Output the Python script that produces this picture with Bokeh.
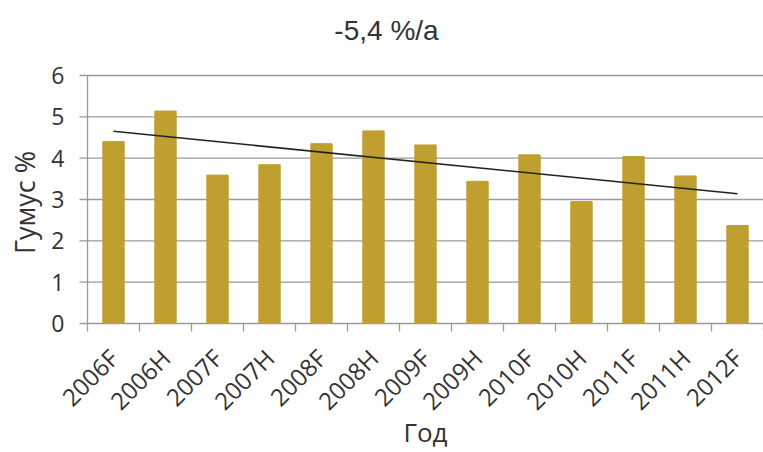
import math
from bokeh.plotting import figure
from bokeh.models import Range1d
from bokeh.core.properties import value
from bokeh.embed import file_html
from bokeh.resources import INLINE

categories = ["2006F", "2006H", "2007F", "2007H", "2008F", "2008H", "2009F",
              "2009H", "2010F", "2010H", "2011F", "2011H", "2012F"]
humus = [4.40, 5.14, 3.59, 3.84, 4.35, 4.66, 4.32, 3.44, 4.08, 2.95, 4.04, 3.57, 2.37]
trend_ends = [4.65, 3.14]
y_ticks = [0, 1, 2, 3, 4, 5, 6]
y_tick_labels = ["0", "1", "2", "3", "4", "5", "6"]
title_text = "-5,4 %/a"
x_title = "Год"
y_title = "Гумус %"

n = len(categories)
xc = [i + 0.5 for i in range(n)]
bounds = list(range(n + 1))

TEXT = "#333333"
AX = "#9A9A9A"
W, H = 763, 452

# pixel layout: value axis 0 at row 323, 6 at row 75; category axis starts at column 87
PPU = (323 - 75) / 6.0
CW = (W - 87) / float(n)
y_top = 6 + 75 / PPU
y_bot = -(H - 323) / PPU
x_left = -87 / CW

p = figure(width=W, height=H, output_backend="svg", toolbar_location=None,
           x_range=Range1d(x_left, n), y_range=Range1d(y_bot, y_top),
           x_axis_location=None, y_axis_location=None,
           min_border_left=0, min_border_right=0, min_border_top=0,
           min_border_bottom=0)
p.outline_line_color = None
p.grid.visible = False

# value grid lines with outward tick marks
p.ray(x=[0] * len(y_ticks), y=y_ticks, length=0, angle=0,
      line_color=AX, line_width=1.3)
p.ray(x=[0] * len(y_ticks), y=y_ticks, length=8, length_units="screen",
      angle=math.pi, line_color=AX, line_width=1.3)
# value axis line
p.segment(x0=[0], y0=[y_ticks[0]], x1=[0], y1=[y_ticks[-1]],
          line_color=AX, line_width=1.3)
# category ticks between categories
p.ray(x=bounds, y=[0] * len(bounds), length=8, length_units="screen",
      angle=-math.pi / 2, line_color=AX, line_width=1.3)

p.vbar(x=xc, top=humus, width=0.41, color="#BF9F30")
p.line(x=[xc[0], xc[-1]], y=trend_ends, color="#222222", line_width=1.6)

# value tick labels
p.text(x=[0] * len(y_ticks), y=y_ticks, text=y_tick_labels, x_offset=-23,
       text_align="right", text_baseline="middle",
       text_font=value("Open Sans"), text_font_size="23px", text_color=TEXT)
# value axis title
p.text(x=[0], y=[3], text=[y_title], angle=math.pi / 2, x_offset=-63, y_offset=3,
       text_align="center", text_baseline="middle",
       text_font=value("Open Sans"), text_font_size="27px", text_color=TEXT)

# category labels
p.text(x=xc, y=[0] * n, text=categories, angle=math.pi / 4,
       text_align="right", text_baseline="middle", x_offset=0, y_offset=30,
       text_font=value("Open Sans"), text_font_size="24px", text_color=TEXT)
# category axis title
p.text(x=[n / 2], y=[0], text=[x_title], y_offset=108,
       text_align="center", text_baseline="middle",
       text_font=value("Open Sans"), text_font_size="26px", text_color=TEXT)

# chart title
p.text(x=[5.75], y=[6], text=[title_text], y_offset=-45,
       text_align="center", text_baseline="middle",
       text_font=value("Liberation Sans"), text_font_size="28px", text_color=TEXT)

open("out.html", "w").write(file_html(p, INLINE))
